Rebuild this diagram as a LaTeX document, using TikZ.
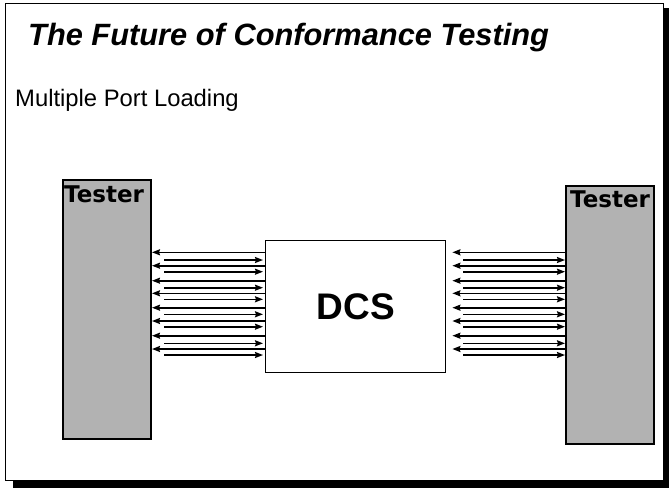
\documentclass[tikz,border=0pt]{standalone}
\usepackage{fontspec}
\setmainfont{Liberation Sans}
\newfontfamily\heavyfont{DejaVu Sans}
\usetikzlibrary{arrows.meta}
\begin{document}
\begin{tikzpicture}[x=1pt,y=-1pt,
  testerbox/.style={draw=black, line width=2pt, fill=black!30, inner sep=0pt,
    anchor=north west, minimum width=88pt},
  testerlabel/.style={font=\heavyfont\bfseries\fontsize{23}{23}\selectfont, inner sep=0pt, anchor=north west},
  dcsbox/.style={draw=black, line width=1.4pt, fill=white, inner sep=0pt,
    anchor=north west, minimum width=180pt, minimum height=132pt,
    font=\bfseries\fontsize{37}{37}\selectfont},
  sig/.style={line width=1.6pt, -{Stealth[length=8pt,width=6pt,inset=1pt]}}
]
\useasboundingbox (0,0) rectangle (669,488);
% slide frame with shadow
\fill[black] (13,481) rectangle (669,488);
\fill[black] (664,8) rectangle (669,488);
\draw[line width=0.8pt] (5,3) rectangle (663,480);
% titles
\node[anchor=base west, inner sep=0pt, font=\bfseries\itshape\fontsize{30.8}{30.8}\selectfont] (title) at (28,45) {The Future of Conformance Testing};
\node[anchor=base west, inner sep=0pt, font=\fontsize{23.8}{23.8}\selectfont] (sub) at (15,106) {Multiple Port Loading};
% boxes
\node[testerbox, minimum height=259pt] (LT) at (62,179) {};
\node[testerbox, minimum height=258pt] (RT) at (565,185) {};
\node[dcsbox] (DCS) at (265,240) {DCS};
\node[testerlabel] (LTl) at (64,186) {Tester};
\node[testerlabel] (RTl) at (570,191) {Tester};
% signal lines
\foreach \ya/\yb in {252.3/260, 265.7/271.7, 280.7/287.7, 293.3/299.3, 307.7/314.3, 321/326.7, 335.7/343.3, 349/355}{
  \draw[sig] (DCS.west |- 0,\ya) -- (LT.east |- 0,\ya);
  \draw[sig, shorten >=2pt] ([xshift=12pt]LT.east |- 0,\yb) -- (DCS.west |- 0,\yb);
  \draw[sig, shorten >=6pt] (RT.west |- 0,\ya) -- (DCS.east |- 0,\ya);
  \draw[sig] ([xshift=17pt]DCS.east |- 0,\yb) -- (RT.west |- 0,\yb);
}
\end{tikzpicture}
\end{document}
